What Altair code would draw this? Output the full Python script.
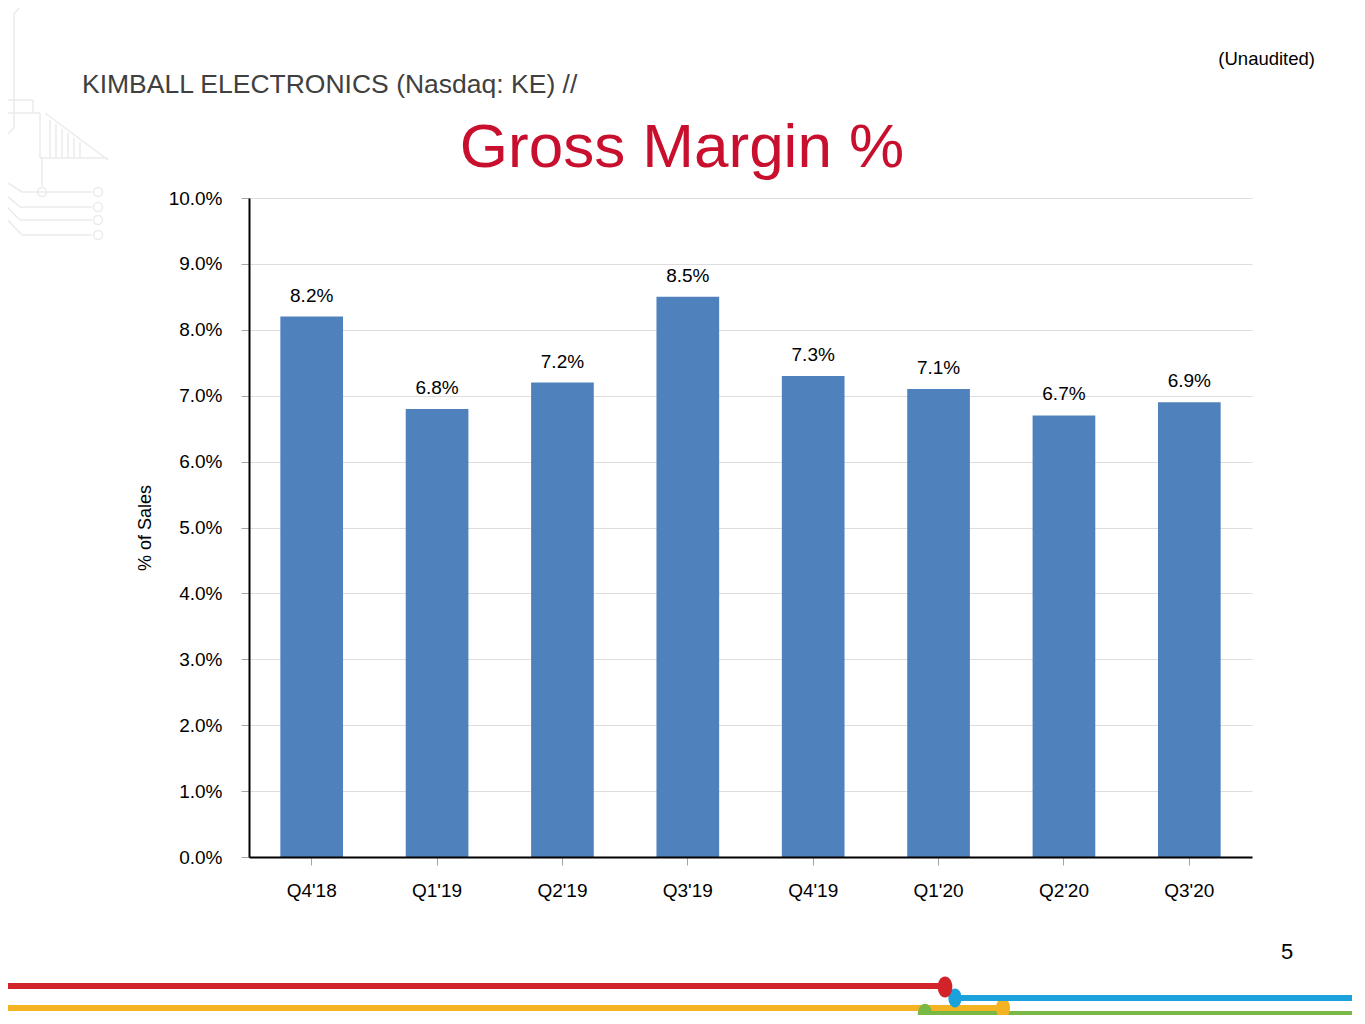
import altair as alt
import pandas as pd

# ---- data ----
quarters = ["Q4'18", "Q1'19", "Q2'19", "Q3'19", "Q4'19", "Q1'20", "Q2'20", "Q3'20"]
margin_pct = [8.2, 6.8, 7.2, 8.5, 7.3, 7.1, 6.7, 6.9]
y_tick_pct = [0, 1, 2, 3, 4, 5, 6, 7, 8, 9, 10]

df = pd.DataFrame({"quarter": quarters, "margin": [v / 100 for v in margin_pct]})

FONT = "Liberation Sans"
OX, OY = 249, 198          # page position of the plot origin
W, H = 1003, 659


def px(x):
    return x - OX


def py(y):
    return y - OY


one = alt.Data(values=[{"a": 1}])

x_enc = alt.X(
    "quarter:N",
    sort=quarters,
    scale=alt.Scale(paddingInner=0.5, paddingOuter=0.25),
    axis=alt.Axis(
        title=None, labelAngle=0, labelFontSize=19, labelFont=FONT,
        labelColor="black", domainColor="black", domainWidth=2,
        tickColor="#A6A6A6", tickSize=8, tickWidth=1, labelPadding=16,
        grid=False, zindex=1,
    ),
)
y_enc = alt.Y(
    "margin:Q",
    scale=alt.Scale(domain=[0, 0.1], nice=False),
    axis=alt.Axis(
        values=[t / 100 for t in y_tick_pct], format=".1%",
        title="% of Sales", titleFont=FONT, titleFontSize=18,
        titleFontWeight="normal", titleColor="black",
        titleX=-104, titleY=H / 2, titleAngle=270, titleAlign="center",
        titleBaseline="middle",
        labelFontSize=19, labelFont=FONT, labelColor="black", labelPadding=19,
        domainColor="black", domainWidth=2, tickColor="#A6A6A6", tickSize=8,
        tickWidth=1, grid=True, gridColor="#DDDDDD", gridWidth=1, zindex=0,
    ),
)

bars = alt.Chart(df).mark_bar(color="#4F81BD").encode(x=x_enc, y=y_enc)
labels = alt.Chart(df).mark_text(
    dy=-21, fontSize=19, font=FONT, color="black", baseline="middle"
).encode(x=x_enc, y=y_enc, text=alt.Text("margin:Q", format=".1%"))


def text_layer(txt, x, y, size, color, align="left"):
    return alt.Chart(one).mark_text(
        text=txt, align=align, baseline="middle", fontSize=size,
        font=FONT, color=color
    ).encode(x=alt.value(px(x)), y=alt.value(py(y)))


def rule_layer(x1, y1, x2, y2, color, width):
    return alt.Chart(one).mark_rule(
        color=color, strokeWidth=width, strokeCap="butt"
    ).encode(x=alt.value(px(x1)), x2=alt.value(px(x2)),
             y=alt.value(py(y1)), y2=alt.value(py(y2)))


ELLIPSE = "M0,-1 A0.7,1 0 1,1 0,1 A0.7,1 0 1,1 0,-1 Z"


def dot_layer(x, y, size, color, filled=True, shape="circle"):
    return alt.Chart(one).mark_point(
        shape=shape, size=size, color=color, filled=filled, opacity=1,
        strokeWidth=1.5
    ).encode(x=alt.value(px(x)), y=alt.value(py(y)))


decor = [
    text_layer("KIMBALL ELECTRONICS (Nasdaq: KE) //", 82, 85, 26.5, "#404040"),
    text_layer("Gross Margin %", 682, 148, 62, "#C8102E", align="center"),
    text_layer("(Unaudited)", 1315, 59, 18.5, "black", align="right"),
    text_layer("5", 1287, 952, 22, "black", align="center"),
]

# faint circuit decoration (top-left)
cg = "#EBEBEB"
circuit = [
    (26, 0, 14, 14), (14, 14, 14, 128), (14, 128, 0, 142),
    (0, 100, 33, 100), (33, 100, 33, 113), (0, 113, 40, 113),
    (40, 113, 40, 158), (45, 113, 108, 160), (40, 158, 108, 158),
    (50, 120, 50, 158), (56, 124, 56, 158), (62, 129, 62, 158),
    (68, 133, 68, 158), (74, 138, 74, 158), (80, 142, 80, 158),
    (42, 158, 42, 186), (0, 178, 22, 192), (22, 192, 92, 192),
    (0, 190, 20, 207), (20, 207, 92, 207), (0, 200, 20, 220),
    (20, 220, 92, 220), (0, 212, 22, 235), (22, 235, 92, 235),
]
for seg in circuit:
    decor.append(rule_layer(*seg, cg, 1.5))
for (cx, cy) in [(42, 192), (98, 192), (98, 207), (98, 220), (98, 235)]:
    decor.append(dot_layer(cx, cy, 80, cg, filled=False))

# bottom coloured lines
decor += [
    rule_layer(0, 1008, 1003, 1008, "#F4B323", 6),
    rule_layer(925, 1014, 1365, 1014, "#7AB845", 6),
    dot_layer(925, 1014, 420, "#7AB845", shape=ELLIPSE),
    dot_layer(1003, 1008, 400, "#F4B323", shape=ELLIPSE),
    rule_layer(955, 998, 1360, 998, "#1BA1DB", 6),
    dot_layer(955, 998, 360, "#1BA1DB", shape=ELLIPSE),
    rule_layer(0, 986, 945, 986, "#D2232A", 6),
    dot_layer(945, 987, 440, "#D2232A", shape=ELLIPSE),
]

chart = alt.layer(bars, labels, *decor).properties(
    width=W, height=H,
    padding={"left": 241, "top": 190, "right": 100, "bottom": 158},
    autosize=alt.AutoSizeParams(type="none"),
    background="white",
).configure_view(stroke=None)

chart.save("out.html", embed_options={"renderer": "svg", "actions": False})
